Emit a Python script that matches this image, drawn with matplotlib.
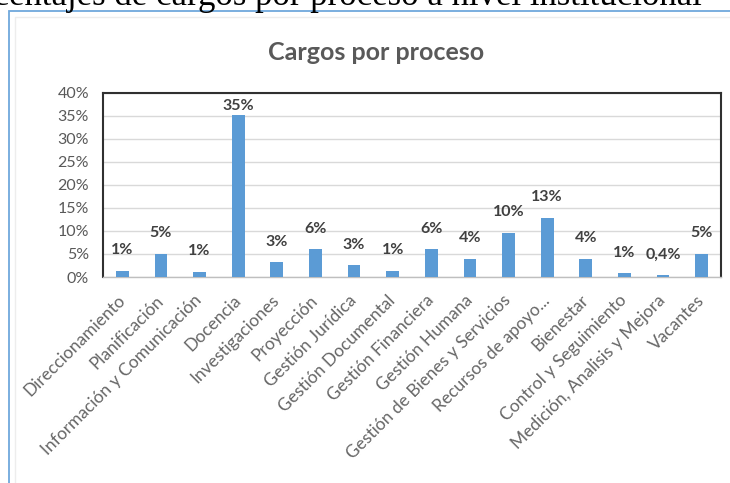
import matplotlib
matplotlib.use('Agg')
import matplotlib.pyplot as plt
from matplotlib.patches import Rectangle

# Datos del gráfico
procesos = ['Direccionamiento', 'Planificación', 'Información y Comunicación', 'Docencia',
            'Investigaciones', 'Proyección', 'Gestión Jurídica', 'Gestión Documental',
            'Gestión Financiera', 'Gestión Humana', 'Gestión de Bienes y Servicios',
            'Recursos de apoyo...', 'Bienestar', 'Control y Seguimiento',
            'Medición, Analisis y Mejora', 'Vacantes']
porcentajes = [1.4, 5.0, 1.1, 35.2, 3.2, 6.0, 2.5, 1.4, 6.0, 4.0, 9.6, 12.8, 4.0, 0.8, 0.4, 5.0]
etiquetas = ['1%', '5%', '1%', '35%', '3%', '6%', '3%', '1%', '6%', '4%', '10%', '13%', '4%', '1%', '0,4%', '5%']
ticks_y = [0, 5, 10, 15, 20, 25, 30, 35, 40]

plt.rcParams['font.family'] = ['Lato', 'DejaVu Sans']
gris = '#595959'

fig = plt.figure(figsize=(7.3, 4.83), dpi=100)

# texto del documento cortado arriba
fig.text(-0.075, 0.989, 'Porcentajes de cargos por proceso a nivel institucional',
         fontsize=25, family='Liberation Serif', color='black', va='baseline', ha='left')

# marco del gráfico
fig.patches.append(Rectangle((0.013, -0.1), 1.2, 0.9772 + 0.1, transform=fig.transFigure,
                             fill=False, edgecolor='#6fa8dc', linewidth=1.3))
fig.patches.append(Rectangle((0.0205, -0.1), 1.2, 0.965 + 0.1, transform=fig.transFigure,
                             fill=False, edgecolor='#ededed', linewidth=1.0))

fig.text(0.515, 0.892, 'Cargos por proceso', fontsize=18, color=gris, ha='center', va='center',
         fontweight='bold')

ax = fig.add_axes([0.1411, 0.4265, 0.8466, 0.381])
x = range(len(procesos))
ax.bar(x, porcentajes, width=0.33, color='#5b9bd5', zorder=3)

for i, (v, t) in enumerate(zip(porcentajes, etiquetas)):
    y = min(v + 4.5, 37.2)
    ax.text(i, y, t, ha='center', va='center', fontsize=11.5, fontweight='bold', color='#404040', zorder=4)

ax.set_ylim(0, 40)
ax.set_xlim(-0.5, len(procesos) - 0.5)
ax.set_yticks(ticks_y)
ax.set_yticklabels([f'{t}%' for t in ticks_y], color=gris, fontsize=11.5)
ax.yaxis.grid(True, color='#d9d9d9', linewidth=1.0, zorder=0)
ax.set_xticks(list(x))
ax.set_xticklabels(procesos, rotation=45, ha='right', va='center', rotation_mode='anchor',
                   color='#666666', fontsize=12.5)
ax.tick_params(axis='both', length=0)
ax.tick_params(axis='y', pad=10)
ax.tick_params(axis='x', pad=15)

for lado in ['top', 'left', 'right']:
    ax.spines[lado].set_color('#303030')
    ax.spines[lado].set_linewidth(1.5)
ax.spines['bottom'].set_color('#bfbfbf')
ax.spines['bottom'].set_linewidth(1.0)

fig.savefig('out.png', dpi=100)
